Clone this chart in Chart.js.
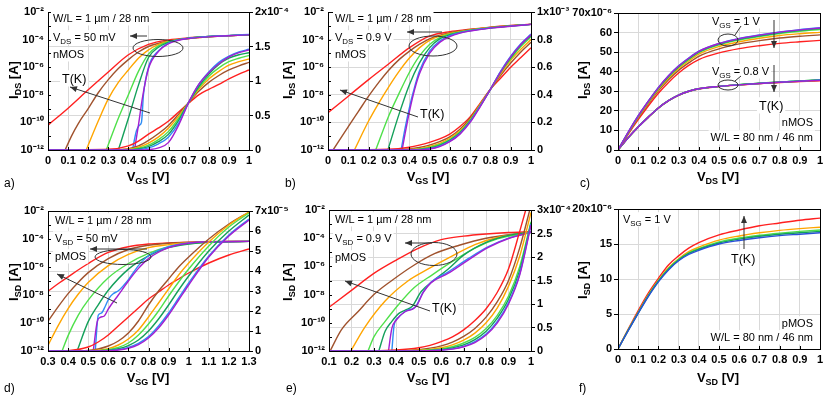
<!DOCTYPE html>
<html><head><meta charset="utf-8">
<script src="https://cdn.jsdelivr.net/npm/chart.js@4.4.1/dist/chart.umd.min.js"></script>
<style>
html,body{margin:0;padding:0;background:#fff;}
body{width:830px;height:399px;position:relative;overflow:hidden;font-family:"Liberation Sans",Arial,Helvetica,sans-serif;color:#000;}
canvas{position:absolute;left:0;top:0;}
.t{position:absolute;white-space:nowrap;font-weight:bold;font-size:13px;line-height:13px;transform:translate(-50%,-50%);}
.t sub{font-size:9px;vertical-align:baseline;position:relative;top:3px;}
.r{transform:translate(-50%,-50%) rotate(-90deg);}
.p{position:absolute;font-size:12px;line-height:12px;}
</style></head><body>
<canvas id="ca" width="830" height="399"></canvas>
<canvas id="cb" width="830" height="399"></canvas>
<canvas id="cc" width="830" height="399"></canvas>
<canvas id="cd" width="830" height="399"></canvas>
<canvas id="ce" width="830" height="399"></canvas>
<canvas id="cf" width="830" height="399"></canvas>

<div class="t r" style="left:14px;top:80px">I<sub>DS</sub> [A]</div>
<div class="t" style="left:148px;top:177px">V<sub>GS</sub> [V]</div>
<div class="t r" style="left:288px;top:80px">I<sub>DS</sub> [A]</div>
<div class="t" style="left:428px;top:177px">V<sub>GS</sub> [V]</div>
<div class="t r" style="left:583px;top:80px">I<sub>DS</sub> [A]</div>
<div class="t" style="left:718px;top:177px">V<sub>DS</sub> [V]</div>
<div class="t r" style="left:14px;top:282px">I<sub>SD</sub> [A]</div>
<div class="t" style="left:148px;top:378px">V<sub>SG</sub> [V]</div>
<div class="t r" style="left:288px;top:282px">I<sub>SD</sub> [A]</div>
<div class="t" style="left:428px;top:378px">V<sub>SG</sub> [V]</div>
<div class="t r" style="left:583px;top:280px">I<sub>SD</sub> [A]</div>
<div class="t" style="left:718px;top:378px">V<sub>SD</sub> [V]</div>

<div class="p" style="left:4px;top:177px">a)</div>
<div class="p" style="left:285px;top:177px">b)</div>
<div class="p" style="left:580px;top:177px">c)</div>
<div class="p" style="left:4px;top:382px">d)</div>
<div class="p" style="left:286px;top:382px">e)</div>
<div class="p" style="left:579px;top:382px">f)</div>

<script>
// ---------- colours (low T -> high T) ----------
const tempColors = ['#a31fd1','#2f8df5','#14a05a','#4fe04a','#ffa500','#a0522d','#ff2020'];

// ---------- panel a : nMOS, VDS = 50 mV (log exponents / linear in 1e-4 A) ----------
const aLogX = [
 [0.43,0.45,0.47,0.5,0.55,0.6,0.65,0.7,0.8,0.9,1.0],
 [0.42,0.44,0.455,0.465,0.475,0.5,0.55,0.6,0.65,0.7,0.8,0.9,1.0],
 [0.35,0.4,0.45,0.5,0.55,0.6,0.65,0.7,0.8,0.9,1.0],
 [0.29,0.35,0.4,0.45,0.5,0.55,0.6,0.65,0.7,0.8,0.9,1.0],
 [0.19,0.25,0.3,0.35,0.4,0.45,0.5,0.55,0.6,0.7,0.8,0.9,1.0],
 [0.085,0.12,0.15,0.2,0.25,0.3,0.35,0.4,0.45,0.5,0.6,0.7,0.8,0.9,1.0],
 [0,0.1,0.2,0.3,0.4,0.5,0.6,0.7,0.8,0.9,1.0]
];
const aLogE = [
 [-12,-10.2,-8.2,-6.1,-4.85,-4.3,-4.05,-3.92,-3.8,-3.72,-3.66],
 [-12,-10.6,-10.2,-10.0,-8.0,-6.0,-4.8,-4.25,-4.02,-3.9,-3.77,-3.7,-3.62],
 [-12,-9.7,-7.3,-5.3,-4.55,-4.2,-4.0,-3.9,-3.78,-3.71,-3.65],
 [-12,-9.7,-8.0,-6.3,-5.05,-4.45,-4.15,-4.0,-3.9,-3.78,-3.71,-3.65],
 [-12,-9.9,-8.3,-7.1,-6.2,-5.35,-4.75,-4.35,-4.12,-3.92,-3.8,-3.72,-3.66],
 [-12,-10.9,-10.1,-9.0,-7.85,-6.9,-6.1,-5.45,-4.9,-4.5,-4.1,-3.92,-3.8,-3.72,-3.66],
 [-10.2,-8.97,-7.64,-6.35,-5.1,-4.35,-4.02,-3.87,-3.78,-3.71,-3.66]
];
const aLinX = [0,0.3,0.4,0.45,0.5,0.55,0.6,0.65,0.7,0.75,0.8,0.85,0.9,0.95,1.0];
const aLinY = [
 [0,0,0,0,0.005,0.03,0.11,0.36,0.69,0.95,1.12,1.25,1.35,1.41,1.45],
 [0,0,0,0.005,0.03,0.09,0.19,0.39,0.69,0.95,1.13,1.27,1.36,1.42,1.46],
 [0,0,0,0.015,0.05,0.12,0.23,0.43,0.69,0.92,1.1,1.24,1.33,1.38,1.41],
 [0,0,0.005,0.025,0.07,0.15,0.27,0.46,0.69,0.9,1.07,1.19,1.28,1.33,1.37],
 [0,0,0.01,0.04,0.1,0.19,0.32,0.49,0.69,0.88,1.03,1.14,1.23,1.28,1.32],
 [0,0,0.02,0.06,0.14,0.24,0.36,0.52,0.69,0.85,0.98,1.08,1.16,1.22,1.27],
 [0,0.01,0.06,0.13,0.23,0.32,0.42,0.55,0.68,0.8,0.88,0.95,1.03,1.1,1.16]
];

// ---------- panel b : nMOS, VDS = 0.9 V (linear in 1e-3 A) ----------
const bLogX = [
 [0.365,0.38,0.4,0.42,0.45,0.5,0.55,0.6,0.65,0.7,0.8,0.9,1.0],
 [0.36,0.38,0.4,0.42,0.45,0.5,0.55,0.6,0.65,0.7,0.8,0.9,1.0],
 [0.295,0.35,0.4,0.45,0.5,0.55,0.6,0.7,0.8,0.9,1.0],
 [0.235,0.3,0.35,0.4,0.45,0.5,0.55,0.6,0.7,0.8,0.9,1.0],
 [0.13,0.2,0.25,0.3,0.35,0.4,0.45,0.5,0.55,0.6,0.7,0.8,0.9,1.0],
 [0.025,0.1,0.15,0.2,0.25,0.3,0.35,0.4,0.45,0.5,0.6,0.7,0.8,0.9,1.0],
 [0,0.1,0.2,0.3,0.4,0.5,0.6,0.7,0.8,0.9,1.0]
];
const bLogE = [
 [-12,-10.8,-9.3,-8.0,-6.5,-5.0,-4.2,-3.78,-3.53,-3.38,-3.17,-3.03,-2.9],
 [-12,-10.4,-9.0,-7.8,-6.3,-4.85,-4.1,-3.72,-3.5,-3.36,-3.16,-3.02,-2.9],
 [-12,-9.4,-7.3,-5.7,-4.6,-3.95,-3.65,-3.34,-3.15,-3.01,-2.9],
 [-12,-9.5,-7.9,-6.4,-5.2,-4.35,-3.85,-3.6,-3.32,-3.14,-3.01,-2.9],
 [-12,-9.9,-8.6,-7.4,-6.3,-5.35,-4.6,-4.05,-3.75,-3.56,-3.3,-3.13,-3.0,-2.9],
 [-12,-10.3,-9.2,-8.1,-7.1,-6.2,-5.45,-4.85,-4.35,-3.95,-3.5,-3.28,-3.12,-3.0,-2.9],
 [-9.3,-8.1,-6.9,-5.75,-4.6,-3.75,-3.42,-3.25,-3.1,-2.98,-2.88]
];
const bLinX = [0,0.3,0.4,0.45,0.5,0.55,0.6,0.65,0.7,0.75,0.8,0.85,0.9,0.95,1.0];
const bLinY = [
 [0,0,0,0.001,0.007,0.025,0.06,0.115,0.2,0.315,0.44,0.565,0.675,0.765,0.835],
 [0,0,0,0.002,0.009,0.028,0.064,0.12,0.205,0.32,0.44,0.57,0.68,0.77,0.84],
 [0,0,0,0.004,0.013,0.034,0.07,0.125,0.21,0.32,0.44,0.565,0.67,0.76,0.83],
 [0,0,0.002,0.006,0.018,0.04,0.075,0.13,0.215,0.325,0.44,0.56,0.66,0.75,0.82],
 [0,0,0.004,0.01,0.025,0.048,0.085,0.14,0.22,0.33,0.44,0.55,0.65,0.73,0.8],
 [0,0,0.008,0.018,0.035,0.06,0.095,0.15,0.23,0.33,0.44,0.54,0.63,0.71,0.78],
 [0,0.005,0.02,0.035,0.055,0.08,0.115,0.17,0.24,0.34,0.44,0.52,0.6,0.67,0.74]
];

// ---------- panel c : nMOS output, W/L = 80/46 nm (1e-6 A) ----------
const cX = [0,0.05,0.1,0.15,0.2,0.25,0.3,0.35,0.4,0.5,0.6,0.7,0.8,0.9,1.0];
const cVgs1 = [
 [0,9,17.4,24.9,31.9,37.9,42.9,46.9,50.4,54.4,56.9,58.7,60.2,61.4,62.3],
 [0,9,17.5,25,32,38,43,47,50.5,54.5,57,58.8,60.3,61.5,62.5],
 [0,8.9,17.3,24.8,31.7,37.6,42.6,46.6,50.1,54.1,56.6,58.4,59.9,61.1,62.1],
 [0,8.8,17.1,24.5,31.4,37.3,42.3,46.2,49.7,53.7,56.2,58.0,59.5,60.7,61.6],
 [0,8.6,16.8,24.1,30.9,36.7,41.6,45.5,49.0,52.9,55.3,57.1,58.5,59.4,60.1],
 [0,8.4,16.4,23.6,30.2,35.9,40.7,44.5,47.9,51.7,54.2,55.9,57.2,58.1,58.8],
 [0,8,15.5,22.5,29,34.5,39.3,43.2,46.2,49.6,51.8,53.3,54.5,55.3,56]
];
const cVgs08 = [
 [0,6.3,11.8,16.8,21.5,25.2,28.0,30.0,31.3,32.5,33.3,34.0,34.6,35.1,35.6],
 [0,6.3,11.8,16.8,21.5,25.2,28.0,30.0,31.3,32.5,33.3,34.0,34.7,35.2,35.8],
 [0,6.3,11.8,16.8,21.5,25.2,28.0,30.0,31.3,32.5,33.4,34.1,34.7,35.3,35.9],
 [0,6.3,11.8,16.8,21.5,25.2,28.0,30.0,31.3,32.5,33.4,34.1,34.8,35.3,35.9],
 [0,6.3,11.8,16.8,21.5,25.2,28.0,30.0,31.3,32.5,33.3,34.0,34.6,35.2,35.7],
 [0,6.3,11.8,16.8,21.5,25.2,28.0,30.0,31.3,32.5,33.3,34.0,34.6,35.1,35.6],
 [0,6.2,11.7,16.7,21.4,25.1,27.9,29.9,31.2,32.4,33.2,33.9,34.5,35.0,35.4]
];

// ---------- panel d : pMOS, VSD = 50 mV (linear in 1e-5 A) ----------
const dLogX = [
 [0.525,0.545,0.56,0.58,0.6,0.65,0.7,0.75,0.8,0.9,1.0,1.1,1.3],
 [0.535,0.55,0.565,0.585,0.605,0.625,0.65,0.7,0.75,0.8,0.9,1.0,1.1,1.3],
 [0.445,0.5,0.55,0.6,0.7,0.8,0.9,1.0,1.1,1.3],
 [0.37,0.4,0.45,0.5,0.6,0.7,0.8,0.9,1.0,1.1,1.3],
 [0.3,0.35,0.4,0.45,0.5,0.6,0.7,0.8,0.9,1.0,1.1,1.3],
 [0.3,0.35,0.4,0.45,0.5,0.6,0.7,0.8,0.9,1.0,1.1,1.3],
 [0.3,0.35,0.4,0.5,0.6,0.7,0.8,0.9,1.0,1.1,1.2,1.3]
];
const dLogE = [
 [-12,-9.9,-9.6,-9.5,-9.0,-8.0,-7.0,-6.1,-5.4,-4.62,-4.3,-4.2,-4.17],
 [-12,-9.45,-9.3,-8.8,-8.2,-7.9,-7.7,-6.9,-5.9,-5.2,-4.55,-4.28,-4.2,-4.17],
 [-12,-9.9,-8.7,-7.66,-6.15,-5.2,-4.62,-4.36,-4.24,-4.17],
 [-12,-10.9,-9.45,-8.37,-6.77,-5.75,-5.03,-4.55,-4.34,-4.23,-4.17],
 [-11.6,-10.2,-8.97,-7.95,-7.1,-5.9,-5.1,-4.62,-4.4,-4.27,-4.21,-4.17],
 [-9.88,-8.85,-7.9,-7.1,-6.4,-5.4,-4.75,-4.45,-4.3,-4.24,-4.2,-4.17],
 [-7.73,-7.2,-6.7,-5.75,-4.96,-4.55,-4.36,-4.28,-4.23,-4.2,-4.18,-4.17]
];
const dLinX = [0.3,0.4,0.5,0.55,0.6,0.65,0.7,0.75,0.8,0.85,0.9,0.95,1.0,1.1,1.2,1.3];
const dLinY = [
 [0,0,0,0,0.01,0.05,0.14,0.32,0.65,1.15,1.8,2.55,3.3,4.7,5.75,6.55],
 [0,0,0,0,0.02,0.07,0.18,0.38,0.72,1.25,1.9,2.65,3.4,4.75,5.8,6.6],
 [0,0,0,0.01,0.04,0.11,0.27,0.55,1.0,1.6,2.3,3.05,3.75,5.0,6.0,6.8],
 [0,0,0,0.02,0.07,0.18,0.4,0.8,1.35,2.0,2.75,3.45,4.1,5.25,6.2,6.9],
 [0,0,0.01,0.04,0.12,0.3,0.6,1.05,1.7,2.4,3.1,3.8,4.4,5.45,6.3,6.95],
 [0,0,0.03,0.1,0.25,0.5,0.9,1.5,2.3,3.0,3.6,4.2,4.7,5.6,6.35,6.95],
 [0,0.02,0.2,0.45,0.8,1.25,1.7,2.15,2.6,2.95,3.3,3.6,3.9,4.4,4.8,5.1]
];

// ---------- panel e : pMOS, VSD = 0.9 V (linear in 1e-4 A) ----------
const eLogX = [
 [0.365,0.38,0.4,0.44,0.47,0.49,0.52,0.555,0.63,0.72,0.81,0.9,1.0],
 [0.38,0.39,0.41,0.45,0.475,0.49,0.52,0.555,0.63,0.72,0.81,0.9,1.0],
 [0.322,0.35,0.38,0.41,0.44,0.47,0.51,0.57,0.63,0.7,0.8,0.9,1.0],
 [0.274,0.3,0.35,0.41,0.48,0.56,0.65,0.75,0.85,1.0],
 [0.197,0.26,0.35,0.45,0.54,0.65,0.75,0.85,1.0],
 [0.105,0.155,0.23,0.3,0.38,0.48,0.57,0.68,0.8,1.0],
 [0.1,0.2,0.3,0.4,0.5,0.6,0.7,0.8,0.9,1.0]
];
const eLogE = [
 [-12,-10.4,-9.8,-9.2,-9.05,-8.8,-7.85,-7.15,-6.5,-5.55,-4.65,-4.02,-3.58],
 [-12,-10.2,-9.6,-9.1,-9.0,-8.75,-7.8,-7.1,-6.4,-5.45,-4.6,-4.0,-3.58],
 [-12,-10.6,-9.9,-9.35,-9.1,-8.85,-7.8,-6.95,-6.2,-5.2,-4.3,-3.8,-3.58],
 [-12,-11.0,-9.9,-8.7,-7.5,-6.6,-5.65,-4.7,-4.05,-3.58],
 [-12,-10.3,-8.45,-7.05,-6.2,-5.25,-4.45,-3.95,-3.57],
 [-12,-10.5,-9.2,-8.0,-7.0,-5.9,-5.1,-4.5,-4.0,-3.57],
 [-8.9,-7.7,-6.5,-5.55,-4.7,-4.1,-3.85,-3.7,-3.6,-3.54]
];
const eLinX = [0.1,0.3,0.4,0.5,0.55,0.6,0.65,0.7,0.75,0.8,0.85,0.9,0.95,1.0];
const eLinY = [
 [0,0,0,0.001,0.005,0.016,0.04,0.09,0.18,0.34,0.6,1.0,1.62,2.68],
 [0,0,0,0.002,0.007,0.02,0.045,0.1,0.2,0.36,0.63,1.03,1.65,2.7],
 [0,0,0,0.004,0.012,0.03,0.065,0.13,0.24,0.42,0.7,1.1,1.72,2.72],
 [0,0,0,0.008,0.02,0.045,0.09,0.17,0.29,0.48,0.76,1.17,1.8,2.75],
 [0,0,0.002,0.015,0.035,0.07,0.13,0.23,0.38,0.6,0.92,1.38,2.02,2.95],
 [0,0,0.005,0.03,0.06,0.11,0.19,0.31,0.48,0.72,1.05,1.5,2.2,3.1],
 [0,0.003,0.02,0.07,0.12,0.2,0.3,0.45,0.65,0.9,1.25,1.75,2.55,3.4]
];

// ---------- panel f : pMOS output, VSG = 1 V (1e-6 A) ----------
const fX = [0,0.05,0.1,0.15,0.2,0.25,0.3,0.35,0.4,0.5,0.6,0.7,0.8,0.9,1.0];
const fColors = ['#2a4fd8','#14a05a','#4fe04a','#ffa500','#ff2020'];
const fY = [
 [0,2.6,5.1,7.5,9.6,11.3,12.6,13.5,14.1,15.0,15.5,15.9,16.2,16.4,16.6],
 [0,2.65,5.15,7.6,9.7,11.4,12.7,13.65,14.25,15.15,15.7,16.1,16.4,16.6,16.8],
 [0,2.65,5.2,7.65,9.75,11.5,12.8,13.75,14.35,15.3,15.85,16.25,16.55,16.8,17.0],
 [0,2.7,5.25,7.7,9.8,11.6,12.9,13.9,14.55,15.55,16.15,16.6,16.95,17.2,17.4],
 [0,2.8,5.5,8.0,10.1,12.0,13.3,14.4,15.2,16.3,17.0,17.6,18.0,18.4,18.7]
];

// ---------- helpers ----------
const GRID = '#d9d9d9';
const FONT = '"Liberation Sans", Arial, Helvetica, sans-serif';
const TF = {family: FONT, size: 11, weight: 'bold'};
const SUPMAP = {'-':'⁻','0':'⁰','1':'¹','2':'²','3':'³','4':'⁴','5':'⁵','6':'⁶','7':'⁷','8':'⁸','9':'⁹'};
const sup = n => String(n).split('').map(c => SUPMAP[c]).join('');
const DECADES = [-12,-11,-10,-9,-8,-7,-6,-5,-4,-3,-2];

function xAxis(min, max) {
  return {type:'linear', position:'bottom', min, max,
    ticks:{stepSize:0.1, autoSkip:false, maxRotation:0, color:'#000', font:TF, padding:4,
      callback: v => String(Math.round(v*10)/10)},
    grid:{color:GRID, drawTicks:false},
    border:{display:true, color:'#000'},
    afterFit: s => { s.height = 20; }};
}
function logAxis(W) {
  return {type:'logarithmic', position:'left', min:1e-12, max:1e-2,
    afterBuildTicks: s => { s.ticks = DECADES.map(e => ({value: Math.pow(10, e)})); },
    ticks:{autoSkip:false, color:'#000', font:TF, padding:4,
      callback: v => { const e = Math.round(Math.log10(v)); return e % 2 === 0 ? '10' + sup(e) : ''; }},
    grid:{drawOnChartArea:false, drawTicks:false},
    border:{display:true, color:'#000'},
    afterFit: s => { s.width = W; }};
}
function linAxis(pos, spec, W) {
  return {type:'linear', position:pos, min:0, max:spec.max,
    ticks:{stepSize:spec.step, autoSkip:false, color:'#000', font:TF, padding:2,
      callback: v => Math.abs(v - spec.max) < spec.max*1e-6 ? spec.top : String(Math.round(v/spec.unit*100)/100)},
    grid:{color:GRID, tickColor:'#000', tickLength:4, drawTicks:true},
    border:{display:true, color:'#000'},
    afterFit: s => { s.width = W; }};
}
function curve(xs, ys, conv, color, axis) {
  return {data: xs.map((x, i) => ({x: x, y: conv(ys[i])})), borderColor: color, backgroundColor: color,
    borderWidth: 1.4, pointRadius: 0, fill: false, cubicInterpolationMode: 'monotone', yAxisID: axis};
}

// ---------- annotations (pixel positions) ----------
const annotations = {
  ca: [
    {t:'text', x:53, y:18, parts:[['W/L = 1 µm / 28 nm']]},
    {t:'text', x:53, y:37, parts:[['V'],['DS',1],[' = 50 mV']]},
    {t:'text', x:53, y:54, parts:[['nMOS']]},
    {t:'text', x:62, y:78, parts:[['T(K)']], size:12.5},
    {t:'arrow', x1:150, y1:113, x2:70, y2:87},
    {t:'ellipse', cx:158, cy:48, rx:25, ry:8.5},
    {t:'arrow', x1:147, y1:36, x2:130, y2:36}
  ],
  cb: [
    {t:'text', x:335, y:18, parts:[['W/L = 1 µm / 28 nm']]},
    {t:'text', x:335, y:37, parts:[['V'],['DS',1],[' = 0.9 V']]},
    {t:'text', x:335, y:54, parts:[['nMOS']]},
    {t:'ellipse', cx:433, cy:46, rx:24, ry:10},
    {t:'arrow', x1:442, y1:32, x2:407, y2:32},
    {t:'text', x:420, y:113, parts:[['T(K)']], size:12.5},
    {t:'arrow', x1:418, y1:117, x2:340, y2:90}
  ],
  cc: [
    {t:'text', x:712, y:21, parts:[['V'],['GS',1],[' = 1 V']]},
    {t:'ellipse', cx:728, cy:40, rx:10, ry:6},
    {t:'line', x1:735, y1:35, x2:741, y2:26},
    {t:'arrow', x1:774, y1:20, x2:774, y2:48},
    {t:'text', x:712, y:71, parts:[['V'],['GS',1],[' = 0.8 V']]},
    {t:'ellipse', cx:728, cy:85, rx:10, ry:5},
    {t:'line', x1:735, y1:81, x2:741, y2:76},
    {t:'arrow', x1:774, y1:65, x2:774, y2:92},
    {t:'text', x:759, y:105, parts:[['T(K)']], size:12.5},
    {t:'text', x:813, y:122, parts:[['nMOS']], align:'right'},
    {t:'text', x:813, y:137, parts:[['W/L = 80 nm / 46 nm']], align:'right'}
  ],
  cd: [
    {t:'text', x:55, y:220, parts:[['W/L = 1 µm / 28 nm']]},
    {t:'text', x:55, y:238, parts:[['V'],['SD',1],[' = 50 mV']]},
    {t:'text', x:55, y:256, parts:[['pMOS']]},
    {t:'ellipse', cx:123, cy:257, rx:28, ry:7.5},
    {t:'arrow', x1:147, y1:249, x2:90, y2:249},
    {t:'arrow', x1:117, y1:303, x2:57, y2:274}
  ],
  ce: [
    {t:'text', x:335, y:219, parts:[['W/L = 1 µm / 28 nm']]},
    {t:'text', x:335, y:238, parts:[['V'],['SD',1],[' = 0.9 V']]},
    {t:'text', x:335, y:257, parts:[['pMOS']]},
    {t:'ellipse', cx:434, cy:254, rx:23, ry:11.5},
    {t:'arrow', x1:432, y1:243, x2:405, y2:243},
    {t:'text', x:432, y:307, parts:[['T(K)']], size:12.5},
    {t:'arrow', x1:430, y1:311, x2:345, y2:281}
  ],
  cf: [
    {t:'text', x:623, y:219, parts:[['V'],['SG',1],[' = 1 V']]},
    {t:'arrow', x1:744, y1:249, x2:744, y2:216},
    {t:'text', x:731, y:258, parts:[['T(K)']], size:12.5},
    {t:'text', x:813, y:323, parts:[['pMOS']], align:'right'},
    {t:'text', x:813, y:337, parts:[['W/L = 80 nm / 46 nm']], align:'right'}
  ]
};

function drawRich(ctx, it) {
  const size = it.size || 11;
  let total = 0;
  const widths = it.parts.map(p => {
    ctx.font = (p[1] ? size*0.72 : size) + 'px ' + FONT;
    const w = ctx.measureText(p[0]).width; total += w; return w;
  });
  let x = it.align === 'right' ? it.x - total : it.x;
  ctx.fillStyle = '#fff';
  ctx.fillRect(x - 2, it.y - size*0.62, total + 4, size*1.3);
  ctx.fillStyle = '#000';
  ctx.textBaseline = 'alphabetic';
  ctx.textAlign = 'left';
  it.parts.forEach((p, i) => {
    ctx.font = (p[1] ? size*0.72 : size) + 'px ' + FONT;
    ctx.fillText(p[0], x, it.y + size*0.36 + (p[1] ? size*0.3 : 0));
    x += widths[i];
  });
}
function drawArrow(ctx, it) {
  ctx.beginPath(); ctx.moveTo(it.x1, it.y1); ctx.lineTo(it.x2, it.y2); ctx.stroke();
  const a = Math.atan2(it.y2 - it.y1, it.x2 - it.x1), L = 7, H = 3;
  ctx.beginPath();
  ctx.moveTo(it.x2, it.y2);
  ctx.lineTo(it.x2 - L*Math.cos(a) + H*Math.sin(a), it.y2 - L*Math.sin(a) - H*Math.cos(a));
  ctx.lineTo(it.x2 - L*Math.cos(a) - H*Math.sin(a), it.y2 - L*Math.sin(a) + H*Math.cos(a));
  ctx.closePath(); ctx.fill();
}

const framePlugin = {
  id: 'frameTicks',
  afterDraw(chart) {
    const ctx = chart.ctx, a = chart.chartArea;
    ctx.save();
    ctx.strokeStyle = '#000'; ctx.lineWidth = 1;
    const xs = chart.scales.x;
    xs.ticks.forEach(t => {
      const px = Math.round(xs.getPixelForValue(t.value)) + 0.5;
      ctx.beginPath(); ctx.moveTo(px, a.bottom); ctx.lineTo(px, a.bottom - 3); ctx.stroke();
    });
    const yl = chart.scales.yl;
    if (yl.type === 'logarithmic') {
      yl.ticks.forEach(t => {
        const py = Math.round(yl.getPixelForValue(t.value)) + 0.5;
        ctx.beginPath(); ctx.moveTo(a.left, py); ctx.lineTo(a.left + 3, py); ctx.stroke();
      });
    }
    ctx.strokeRect(Math.round(a.left) + 0.5, Math.round(a.top) + 0.5, Math.round(a.right - a.left), Math.round(a.bottom - a.top));
    // annotations
    const items = annotations[chart.canvas.id] || [];
    ctx.strokeStyle = '#333'; ctx.fillStyle = '#333'; ctx.lineWidth = 1;
    items.forEach(it => {
      if (it.t === 'ellipse') { ctx.beginPath(); ctx.ellipse(it.cx, it.cy, it.rx, it.ry, 0, 0, Math.PI*2); ctx.stroke(); }
    });
    items.forEach(it => { if (it.t === 'text') drawRich(ctx, it); });
    ctx.strokeStyle = '#333'; ctx.fillStyle = '#333';
    items.forEach(it => {
      if (it.t === 'arrow') drawArrow(ctx, it);
      if (it.t === 'line') { ctx.beginPath(); ctx.moveTo(it.x1, it.y1); ctx.lineTo(it.x2, it.y2); ctx.stroke(); }
    });
    ctx.restore();
  }
};

function build(p) {
  const LW = 46, RW = p.right ? 44 : 0, XH = 20;
  const scales = {x: xAxis(p.xmin, p.xmax)};
  scales.yl = p.left ? linAxis('left', p.left, LW) : logAxis(LW);
  if (p.right) scales.yr = linAxis('right', p.right, RW);
  new Chart(document.getElementById(p.id), {
    type: 'line',
    data: {datasets: p.datasets},
    options: {
      responsive: false, animation: false, events: [],
      layout: {padding: {left: p.L - LW, right: 830 - p.R - RW, top: p.T, bottom: 399 - p.B - XH}},
      plugins: {legend: {display: false}, tooltip: {enabled: false}},
      scales: scales
    },
    plugins: [framePlugin]
  });
}

const toLog = e => Math.pow(10, e);
function logPanelSets(logX, logE, linX, linY, unit) {
  const sets = [];
  tempColors.forEach((c, i) => sets.push(curve(linX, linY[i], v => v*unit, c, 'yr')));
  tempColors.forEach((c, i) => sets.push(curve(logX[i], logE[i], toLog, c, 'yl')));
  return sets;
}

build({id:'ca', L:48, R:249, T:12, B:150, xmin:0, xmax:1,
  right:{max:2e-4, step:0.5e-4, unit:1e-4, top:'2x10⁻⁴'},
  datasets: logPanelSets(aLogX, aLogE, aLinX, aLinY, 1e-4)});
build({id:'cb', L:328, R:531, T:12, B:150, xmin:0, xmax:1,
  right:{max:1e-3, step:0.2e-3, unit:1e-3, top:'1x10⁻³'},
  datasets: logPanelSets(bLogX, bLogE, bLinX, bLinY, 1e-3)});
build({id:'cc', L:618, R:820, T:13, B:150, xmin:0, xmax:1,
  left:{max:70e-6, step:10e-6, unit:1e-6, top:'70x10⁻⁶'},
  datasets: tempColors.map((c, i) => curve(cX, cVgs1[i], v => v*1e-6, c, 'yl'))
    .concat(tempColors.map((c, i) => curve(cX, cVgs08[i], v => v*1e-6, c, 'yl')))});
build({id:'cd', L:48, R:249, T:211, B:351, xmin:0.3, xmax:1.3,
  right:{max:7e-5, step:1e-5, unit:1e-5, top:'7x10⁻⁵'},
  datasets: logPanelSets(dLogX, dLogE, dLinX, dLinY, 1e-5)});
build({id:'ce', L:329, R:531, T:210, B:351, xmin:0.1, xmax:1,
  right:{max:3e-4, step:0.5e-4, unit:1e-4, top:'3x10⁻⁴'},
  datasets: logPanelSets(eLogX, eLogE, eLinX, eLinY, 1e-4)});
build({id:'cf', L:618, R:820, T:209, B:349, xmin:0, xmax:1,
  left:{max:20e-6, step:5e-6, unit:1e-6, top:'20x10⁻⁶'},
  datasets: fColors.map((c, i) => curve(fX, fY[i], v => v*1e-6, c, 'yl'))});
</script>
</body></html>
